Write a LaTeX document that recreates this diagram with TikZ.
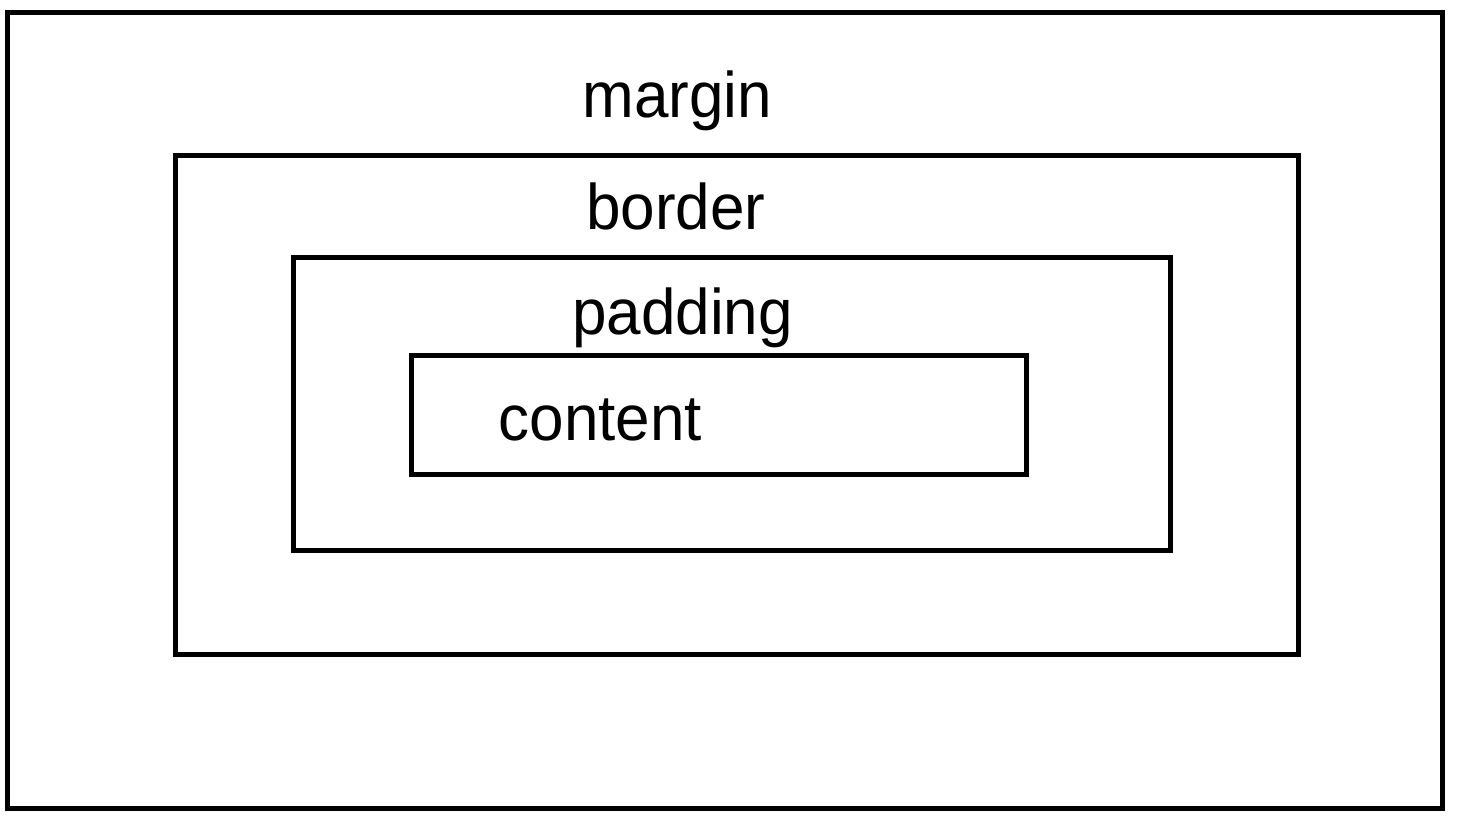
\documentclass[tikz,border=0pt]{standalone}
\usepackage{fontspec}
\setmainfont{Liberation Sans}
\begin{document}
\begin{tikzpicture}[x=0.5pt,y=-0.5pt,
  box/.style={draw=black,line width=2.5pt,line join=miter},
  lbl/.style={anchor=base,inner sep=0pt,font=\fontsize{31pt}{37pt}\selectfont}]
  \useasboundingbox (0,0) rectangle (1463,830);
  % nested boxes: margin, border, padding, content
  \draw[box] (7.5,12.5) rectangle (1442,808);
  \draw[box] (175.5,155.5) rectangle (1298,654.5);
  \draw[box] (293.5,257) rectangle (1170,550.5);
  \draw[box] (411.5,355.5) rectangle (1026,474.5);
  % labels
  \node[lbl] (margin) at (677.5,117) {\scalebox{1}[1.04]{margin}};
  \node[lbl] (border) at (676,229) {\scalebox{1}[1.04]{border}};
  \node[lbl] (padding) at (682.5,334) {\scalebox{1}[1.04]{padding}};
  \node[lbl] (content) at (600.5,440) {\scalebox{1}[1.04]{content}};
\end{tikzpicture}
\end{document}
